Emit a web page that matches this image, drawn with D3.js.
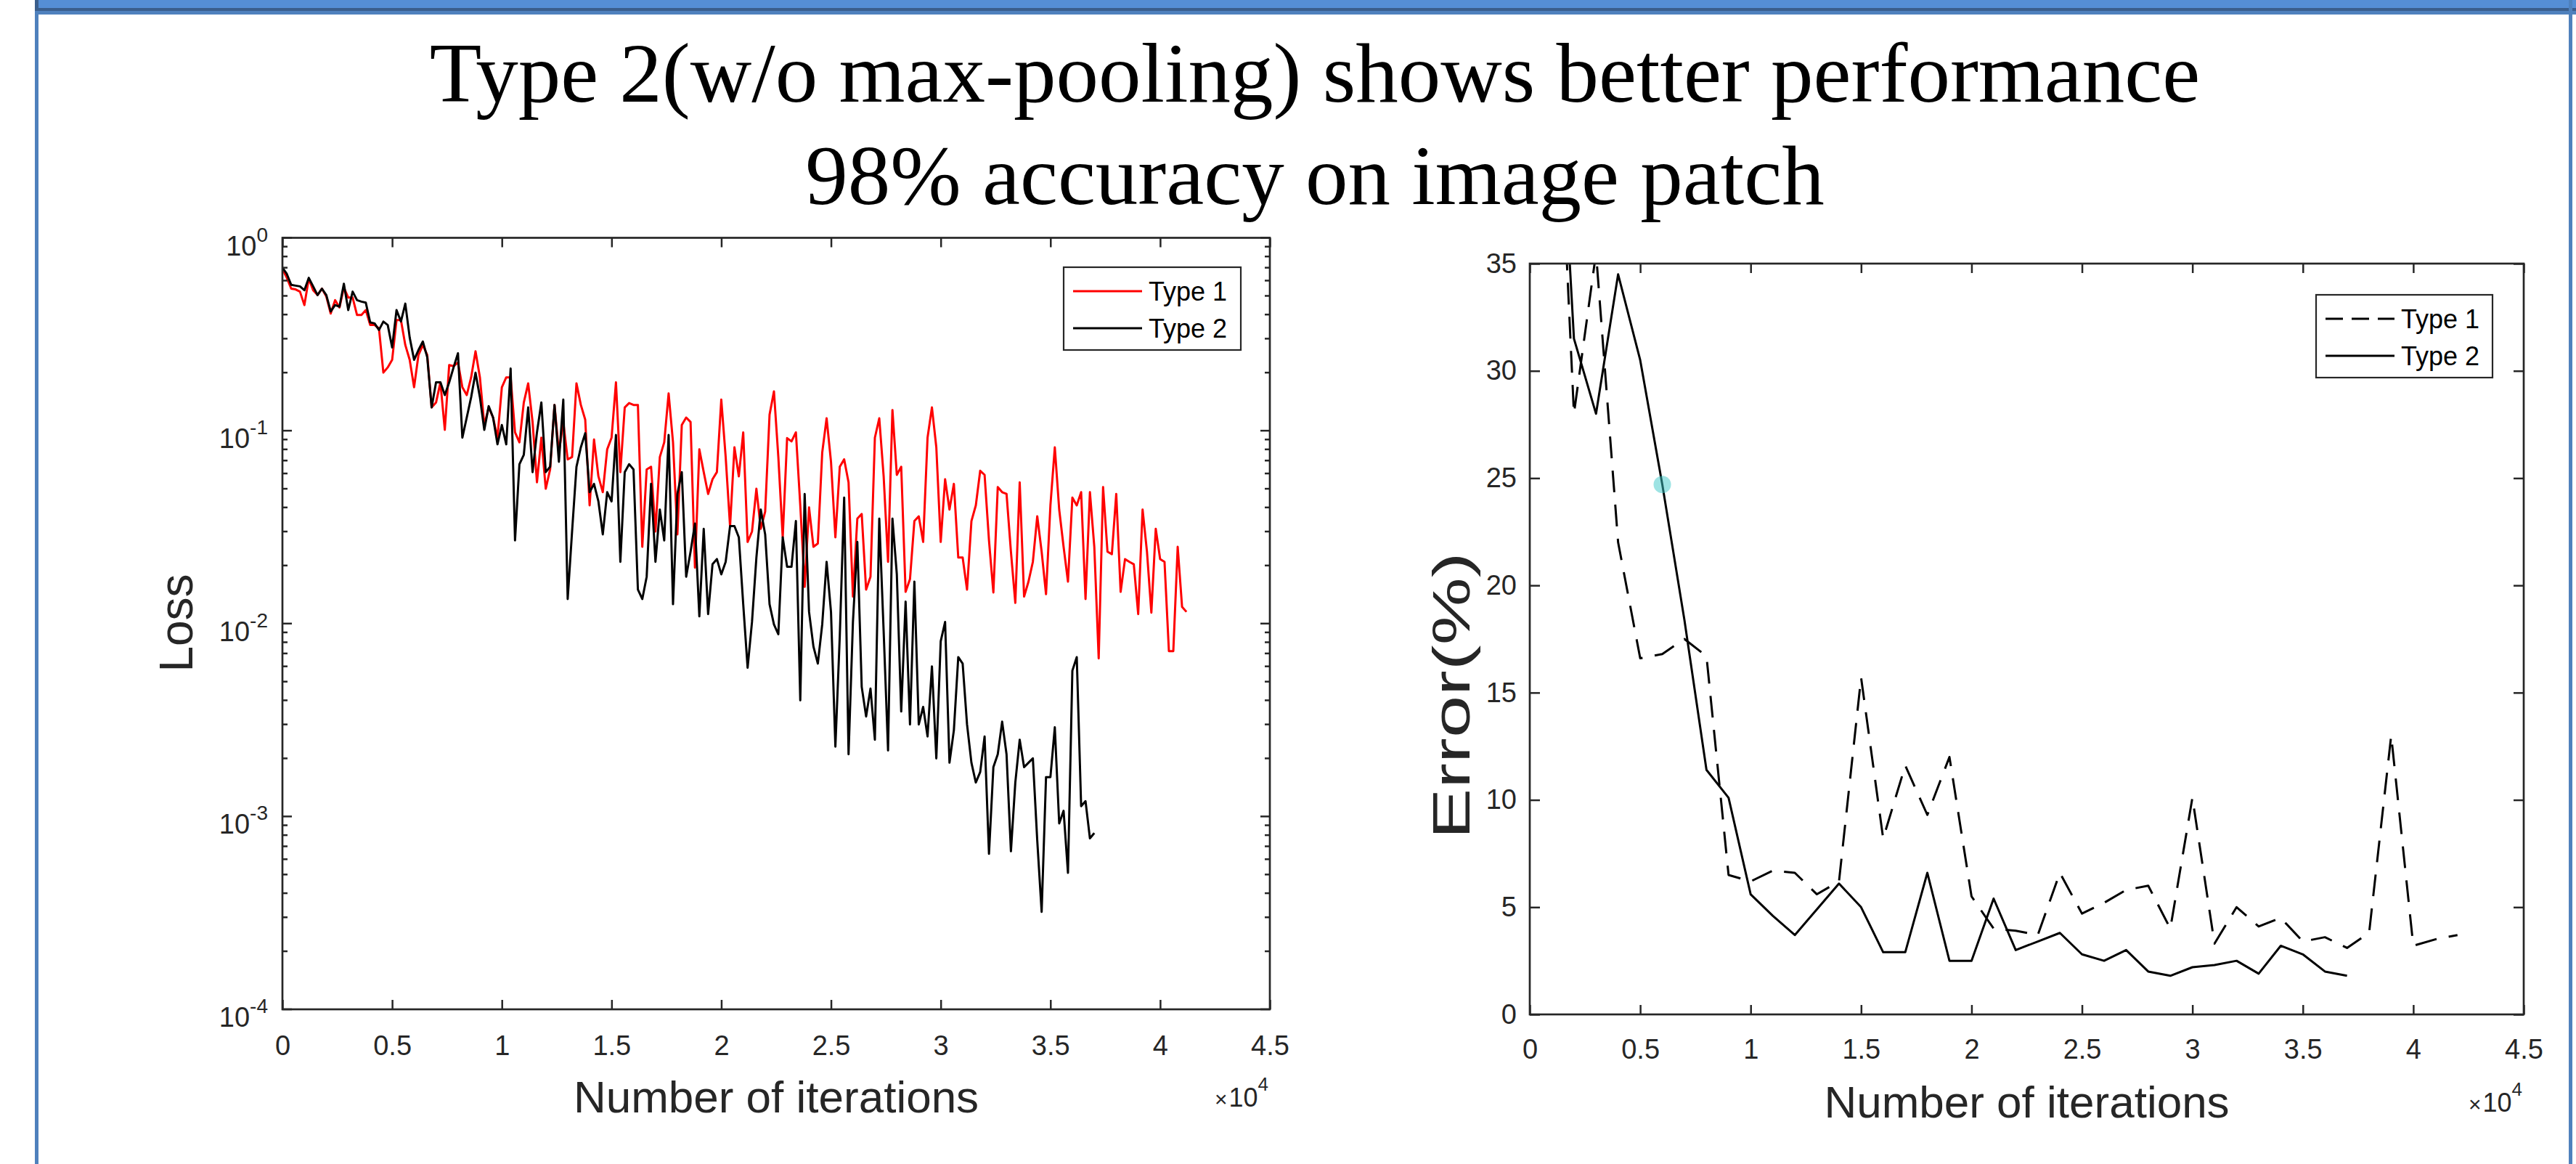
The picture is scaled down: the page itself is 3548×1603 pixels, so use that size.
<!DOCTYPE html>
<html>
<head>
<meta charset="utf-8">
<script src="https://cdn.jsdelivr.net/npm/d3@7"></script>
<style>
  html, body { margin: 0; padding: 0; background: #fff; }
  svg { display: block; }
</style>
</head>
<body>
<div class="slide"></div>
<script>
// ---- data ----
const titleLines = ["Type 2(w/o max-pooling) shows better performance", "98% accuracy on image patch"];
const seriesNames = ["Type 1", "Type 2"];

// training loss, one value every lossStep iterations starting at 0
const lossStep = 200;
const lossType1 = [
  0.69, 0.62, 0.545, 0.54, 0.526, 0.448, 0.614, 0.535, 0.505, 0.545,
  0.496, 0.405, 0.475, 0.435, 0.552, 0.49, 0.49, 0.398, 0.398, 0.422,
  0.353, 0.353, 0.339, 0.2, 0.213, 0.233, 0.375, 0.375, 0.278, 0.233,
  0.168, 0.247, 0.278, 0.247, 0.132, 0.14, 0.178, 0.101, 0.219, 0.216,
  0.226, 0.168, 0.153, 0.189, 0.258, 0.189, 0.107, 0.132, 0.117, 0.092,
  0.168, 0.189, 0.189, 0.098, 0.087, 0.14, 0.176, 0.111, 0.054, 0.092,
  0.05, 0.063, 0.136, 0.077, 0.111, 0.071, 0.073, 0.176, 0.136, 0.114,
  0.041, 0.09, 0.058, 0.048, 0.08, 0.092, 0.178, 0.061, 0.132, 0.139,
  0.136, 0.136, 0.025, 0.063, 0.065, 0.03, 0.073, 0.087, 0.156, 0.087,
  0.029, 0.107, 0.117, 0.111, 0.0195, 0.08, 0.061, 0.047, 0.056, 0.061,
  0.145, 0.073, 0.032, 0.082, 0.058, 0.098, 0.0265, 0.03, 0.05, 0.031,
  0.038, 0.121, 0.16, 0.073, 0.028, 0.0915, 0.088, 0.098, 0.041, 0.0155,
  0.04, 0.025, 0.026, 0.077, 0.116, 0.069, 0.028, 0.065, 0.071, 0.054,
  0.0138, 0.035, 0.037, 0.015, 0.0175, 0.092, 0.116, 0.058, 0.0209, 0.128,
  0.059, 0.065, 0.0146, 0.017, 0.034, 0.036, 0.0265, 0.092, 0.132, 0.082,
  0.0265, 0.056, 0.039, 0.053, 0.022, 0.022, 0.015, 0.034, 0.041, 0.062,
  0.059, 0.027, 0.0145, 0.051, 0.048, 0.047, 0.0236, 0.0128, 0.054, 0.0138,
  0.0165, 0.0209, 0.036, 0.0236, 0.0142, 0.041, 0.082, 0.039, 0.025, 0.0165,
  0.045, 0.041, 0.048, 0.0134, 0.048, 0.025, 0.0066, 0.051, 0.0236, 0.0229,
  0.047, 0.0146, 0.0216, 0.0209, 0.0203, 0.0112, 0.039, 0.0236, 0.0114, 0.031,
  0.0216, 0.0209, 0.0072, 0.0072, 0.025, 0.0122, 0.0115
];
const lossType2 = [
  0.7, 0.65, 0.57, 0.565, 0.56, 0.535, 0.62, 0.56, 0.505, 0.545,
  0.505, 0.415, 0.448, 0.44, 0.578, 0.422, 0.526, 0.475, 0.467, 0.461,
  0.364, 0.36, 0.333, 0.368, 0.353, 0.27, 0.422, 0.368, 0.456, 0.304,
  0.233, 0.262, 0.29, 0.24, 0.132, 0.178, 0.178, 0.153, 0.178, 0.213,
  0.252, 0.092, 0.117, 0.149, 0.2, 0.149, 0.101, 0.134, 0.117, 0.085,
  0.107, 0.085, 0.21, 0.027, 0.067, 0.075, 0.132, 0.061, 0.098, 0.14,
  0.061, 0.065, 0.136, 0.069, 0.145, 0.0134, 0.03, 0.065, 0.082, 0.097,
  0.048, 0.053, 0.043, 0.029, 0.048, 0.043, 0.095, 0.0209, 0.061, 0.067,
  0.063, 0.015, 0.0134, 0.0175, 0.053, 0.0209, 0.039, 0.027, 0.095, 0.0126,
  0.047, 0.061, 0.0175, 0.0236, 0.033, 0.0109, 0.031, 0.0112, 0.0203, 0.0216,
  0.018, 0.0209, 0.032, 0.032, 0.028, 0.0126, 0.0059, 0.0102, 0.022, 0.039,
  0.029, 0.0126, 0.0099, 0.0088, 0.028, 0.0197, 0.0197, 0.034, 0.004, 0.047,
  0.0115, 0.0076, 0.0062, 0.0099, 0.0209, 0.0115, 0.0023, 0.0086, 0.045, 0.0021,
  0.0102, 0.0265, 0.0047, 0.0033, 0.0046, 0.0025, 0.035, 0.0091, 0.0022, 0.035,
  0.018, 0.0035, 0.013, 0.003, 0.0165, 0.003, 0.0037, 0.0026, 0.006, 0.002,
  0.0081, 0.0102, 0.0019, 0.0028, 0.0067, 0.0062, 0.003, 0.0019, 0.0015, 0.0017,
  0.0026, 0.00064, 0.0018, 0.0021, 0.0031, 0.0021, 0.00066, 0.0015, 0.0025, 0.0018,
  0.0019, 0.002, 0.00075, 0.00032, 0.0016, 0.0016, 0.0029, 0.00092, 0.00107, 0.00051,
  0.0057, 0.0067, 0.00113, 0.0012, 0.00077, 0.00082
];

// test error (%), one value every errStep iterations starting at errStart
const errStart = 1000;
const errStep = 1000;
const errType1 = [50, 28.0, 35.5, 22.0, 16.6, 16.8, 17.5, 16.7, 6.5, 6.2,
  6.7, 6.6, 5.6, 6.2, 15.7, 8.2, 11.6, 9.3, 12.0, 5.5,
  4.0, 3.9, 3.7, 6.6, 4.7, 5.2, 5.8, 6.0, 4.0, 10.1,
  3.3, 5.0, 4.1, 4.5, 3.4, 3.6, 3.1, 3.8, 13.0, 3.2,
  3.5, 3.7];
const errType2 = [50, 31.5, 28.0, 34.5, 30.5, 24.7, 18.4, 11.4, 10.1, 5.6,
  4.6, 3.7, 4.9, 6.1, 5.0, 2.9, 2.9, 6.6, 2.5, 2.5,
  5.4, 3.0, 3.4, 3.8, 2.8, 2.5, 3.0, 2.0, 1.8, 2.2,
  2.3, 2.5, 1.9, 3.2, 2.8, 2.0, 1.8];
const cursorPoint = { iter: 6000, err: 24.7 };

// ticks
const xTickLabels = [0, 0.5, 1, 1.5, 2, 2.5, 3, 3.5, 4, 4.5]; // x 10^4
const lossDecades = [0, -1, -2, -3, -4];
const errTicks = [0, 5, 10, 15, 20, 25, 30, 35];

// ---- drawing ----
const W = 3548, H = 1603;
const axisColor = "#262626";
const sans = "'Liberation Sans', Arial, sans-serif";
const lineWidth = 3;

const svg = d3.select(".slide").append("svg").attr("width", W).attr("height", H);

// slide frame
svg.append("rect").attr("x", 48).attr("y", 0).attr("width", W - 48).attr("height", 12).attr("fill", "#558ED5");
svg.append("rect").attr("x", 48).attr("y", 11).attr("width", W - 48).attr("height", 4).attr("fill", "#3A5E8C");
svg.append("rect").attr("x", 48).attr("y", 15).attr("width", W - 48).attr("height", 5).attr("fill", "#4F81BD");
svg.append("rect").attr("x", 48).attr("y", 0).attr("width", 5).attr("height", H).attr("fill", "#4F81BD");
svg.append("rect").attr("x", 48).attr("y", 0).attr("width", 5).attr("height", 15).attr("fill", "#3A5E8C");
svg.append("rect").attr("x", 3538).attr("y", 0).attr("width", 5).attr("height", H).attr("fill", "#4F81BD");

// title
svg.selectAll("text.title")
  .data(titleLines)
  .enter()
  .append("text")
  .attr("class", "title")
  .attr("x", 1811)
  .attr("y", (d, i) => 140 + i * 141)
  .attr("text-anchor", "middle")
  .attr("font-family", "'Liberation Serif', 'Times New Roman', serif")
  .attr("font-size", 117)
  .attr("fill", "#000")
  .text((d) => d);

function styleAxis(g, fontSize) {
  g.attr("color", axisColor).attr("font-size", null).attr("font-family", null);
  g.select(".domain").remove();
  g.selectAll(".tick line").attr("stroke-width", 2.5);
  g.selectAll(".tick text")
    .attr("font-size", fontSize)
    .attr("font-family", sans)
    .attr("fill", axisColor);
}

function drawBox(box) {
  svg.append("rect")
    .attr("x", box.x0).attr("y", box.y0)
    .attr("width", box.x1 - box.x0).attr("height", box.y1 - box.y0)
    .attr("fill", "none").attr("stroke", axisColor).attr("stroke-width", 2.7);
}

function drawXAxes(xScale, box, pad) {
  const vals = xTickLabels.map((d) => d * 1e4);
  svg.append("g")
    .attr("transform", `translate(0,${box.y1})`)
    .call(d3.axisBottom(xScale).tickValues(vals).tickSizeInner(-13).tickSizeOuter(0)
      .tickPadding(pad).tickFormat((d) => d / 1e4))
    .call((g) => styleAxis(g, 38));
  svg.append("g")
    .attr("transform", `translate(0,${box.y0})`)
    .call(d3.axisTop(xScale).tickValues(vals).tickSizeInner(-13).tickSizeOuter(0).tickFormat(""))
    .call((g) => styleAxis(g, 38));

  // x 10^4 multiplier
  const m = svg.append("text")
    .attr("x", box.x1 - 2)
    .attr("y", box.y1 + 134)
    .attr("text-anchor", "end")
    .attr("font-family", sans)
    .attr("fill", axisColor);
  m.append("tspan").attr("font-size", 30).text("\u00d7");
  m.append("tspan").attr("font-size", 36).attr("dx", 2).text("10");
  m.append("tspan").attr("font-size", 26).attr("dy", -22).text("4");

  svg.append("text")
    .attr("x", (box.x0 + box.x1) / 2)
    .attr("y", box.y1 + 142)
    .attr("text-anchor", "middle")
    .attr("font-family", sans)
    .attr("font-size", 62)
    .attr("fill", axisColor)
    .text("Number of iterations");
}

function drawLegend(lg, styles) {
  svg.append("rect")
    .attr("x", lg.x).attr("y", lg.y).attr("width", lg.w).attr("height", lg.h)
    .attr("fill", "#fff").attr("stroke", axisColor).attr("stroke-width", 2.2);
  seriesNames.forEach((name, i) => {
    const cy = lg.y + 33 + i * 51;
    svg.append("line")
      .attr("x1", lg.x + 13).attr("x2", lg.x + 108)
      .attr("y1", cy).attr("y2", cy)
      .attr("stroke", styles[i].color).attr("stroke-width", lineWidth)
      .attr("stroke-dasharray", styles[i].dash);
    svg.append("text")
      .attr("x", lg.x + 117).attr("y", cy + 13)
      .attr("font-family", sans).attr("font-size", 36).attr("fill", "#000")
      .text(name);
  });
}

// ---------- left: loss (log scale) ----------
const lossBox = { x0: 389, x1: 1749, y0: 327.5, y1: 1390 };
const xLoss = d3.scaleLinear().domain([0, 45000]).range([lossBox.x0, lossBox.x1]);
const yLoss = d3.scaleLog().domain([1e-4, 1]).range([lossBox.y1, lossBox.y0]);

svg.append("clipPath").attr("id", "clipLoss").append("rect")
  .attr("x", lossBox.x0).attr("y", lossBox.y0)
  .attr("width", lossBox.x1 - lossBox.x0).attr("height", lossBox.y1 - lossBox.y0);

const lossLine = d3.line()
  .x((d, i) => xLoss(i * lossStep))
  .y((d) => yLoss(d));

[
  { data: lossType1, color: "#ff0000" },
  { data: lossType2, color: "#000000" },
].forEach((s) => {
  svg.append("path")
    .datum(s.data)
    .attr("clip-path", "url(#clipLoss)")
    .attr("fill", "none")
    .attr("stroke", s.color)
    .attr("stroke-width", lineWidth)
    .attr("stroke-linejoin", "round")
    .attr("d", lossLine);
});

drawBox(lossBox);
drawXAxes(xLoss, lossBox, 36);

// log ticks, major at decades, minor at 2..9
const logTicks = yLoss.ticks().map((v) => ({
  v,
  major: Math.abs(Math.log10(v) - Math.round(Math.log10(v))) < 1e-9,
}));
svg.selectAll(".ltick-left")
  .data(logTicks)
  .enter()
  .append("line")
  .attr("x1", lossBox.x0)
  .attr("x2", (d) => lossBox.x0 + (d.major ? 13 : 7))
  .attr("y1", (d) => yLoss(d.v))
  .attr("y2", (d) => yLoss(d.v))
  .attr("stroke", axisColor)
  .attr("stroke-width", 2.5);
svg.selectAll(".ltick-right")
  .data(logTicks)
  .enter()
  .append("line")
  .attr("x1", lossBox.x1)
  .attr("x2", (d) => lossBox.x1 - (d.major ? 13 : 7))
  .attr("y1", (d) => yLoss(d.v))
  .attr("y2", (d) => yLoss(d.v))
  .attr("stroke", axisColor)
  .attr("stroke-width", 2.5);

lossDecades.forEach((e) => {
  const t = svg.append("text")
    .attr("x", 369)
    .attr("y", yLoss(Math.pow(10, e)) + 24)
    .attr("text-anchor", "end")
    .attr("font-family", sans)
    .attr("font-size", 38)
    .attr("fill", axisColor);
  t.append("tspan").text("10");
  t.append("tspan").attr("font-size", 28).attr("dy", -19).text(e === 0 ? "0" : "-" + Math.abs(e));
});

svg.append("text")
  .attr("transform", "rotate(-90)")
  .attr("x", -858)
  .attr("y", 265)
  .attr("text-anchor", "middle")
  .attr("font-family", sans)
  .attr("font-size", 64)
  .attr("fill", axisColor)
  .text("Loss");

drawLegend({ x: 1465, y: 368, w: 244, h: 114 }, [
  { color: "#ff0000", dash: null },
  { color: "#000000", dash: null },
]);

// ---------- right: error (%) ----------
const errBox = { x0: 2107, x1: 3476, y0: 363, y1: 1397 };
const xErr = d3.scaleLinear().domain([0, 45000]).range([errBox.x0, errBox.x1]);
const yErr = d3.scaleLinear().domain([0, 35]).range([errBox.y1, errBox.y0]);

svg.append("clipPath").attr("id", "clipErr").append("rect")
  .attr("x", errBox.x0).attr("y", errBox.y0)
  .attr("width", errBox.x1 - errBox.x0).attr("height", errBox.y1 - errBox.y0);

const errLine = d3.line()
  .x((d, i) => xErr(errStart + i * errStep))
  .y((d) => yErr(d));

[
  { data: errType1, dash: "30,17" },
  { data: errType2, dash: null },
].forEach((s) => {
  svg.append("path")
    .datum(s.data)
    .attr("clip-path", "url(#clipErr)")
    .attr("fill", "none")
    .attr("stroke", "#000")
    .attr("stroke-width", lineWidth)
    .attr("stroke-linejoin", "round")
    .attr("stroke-dasharray", s.dash)
    .attr("d", errLine);
});

svg.append("circle")
  .attr("cx", xErr(cursorPoint.iter))
  .attr("cy", yErr(cursorPoint.err))
  .attr("r", 12)
  .attr("fill", "rgb(60,200,200)")
  .attr("fill-opacity", 0.5);

drawBox(errBox);
drawXAxes(xErr, errBox, 34);

svg.append("g")
  .attr("transform", `translate(${errBox.x0},0)`)
  .call(d3.axisLeft(yErr).tickValues(errTicks).tickSizeInner(-14).tickSizeOuter(0).tickPadding(18))
  .call((g) => styleAxis(g, 38));
svg.append("g")
  .attr("transform", `translate(${errBox.x1},0)`)
  .call(d3.axisRight(yErr).tickValues(errTicks).tickSizeInner(-14).tickSizeOuter(0).tickFormat(""))
  .call((g) => styleAxis(g, 38));

svg.append("text")
  .attr("transform", "rotate(-90)")
  .attr("x", -958)
  .attr("y", 2024)
  .attr("text-anchor", "middle")
  .attr("font-family", sans)
  .attr("font-size", 72)
  .attr("textLength", 395)
  .attr("lengthAdjust", "spacingAndGlyphs")
  .attr("fill", axisColor)
  .text("Error(%)");

drawLegend({ x: 3190, y: 406, w: 243, h: 114 }, [
  { color: "#000000", dash: "24,12" },
  { color: "#000000", dash: null },
]);
</script>
</body>
</html>
